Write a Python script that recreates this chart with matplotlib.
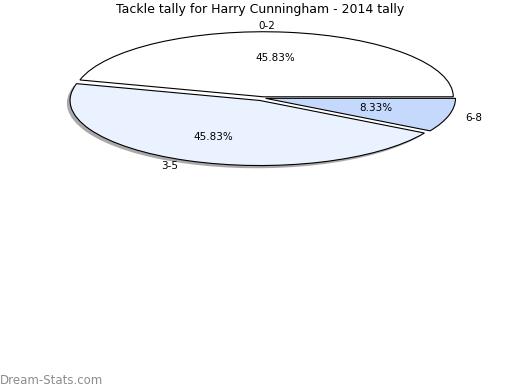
import matplotlib
matplotlib.use('Agg')
import matplotlib.pyplot as plt
from matplotlib.patches import Shadow

# --- datos ---
rangos = ['0-2', '3-5', '6-8']
partidos = [11, 11, 2]
colores = ['#ffffff', '#ebf2ff', '#c5d9fd']
separacion = [0.02, 0.04, 0.015]

fig = plt.figure(figsize=(5.2, 3.9), dpi=100)
# eje aplastado para simular la vista en perspectiva
ax = fig.add_axes([0.049, 0.54, 0.913, 0.417])
wedges, textos, pcts = ax.pie(partidos, labels=rangos, colors=colores, explode=separacion,
                              startangle=0, counterclock=True, autopct='%.2f%%',
                              wedgeprops=dict(edgecolor='black', linewidth=0.8),
                              textprops=dict(fontsize=7.5))
ax.set_aspect('auto')
ax.set_xlim(-1.25, 1.25)
ax.set_ylim(-1.25, 1.25)

# sombra solo en la porción 3-5
sombra = Shadow(wedges[1], -0.012, -0.03, facecolor='#555555', edgecolor='none')
sombra.set_zorder(wedges[1].get_zorder() - 0.5)
ax.add_patch(sombra)

pos_etiquetas = [(0.02, 1.11), (-0.49, -1.05), (1.11, -0.31)]
pos_pct = [(0.063, 0.62), (-0.26, -0.6), (0.595, -0.15)]
for t, p in zip(textos, pos_etiquetas):
    t.set_position(p)
    t.set_ha('center')
    t.set_va('center')
for t, p in zip(pcts, pos_pct):
    t.set_position(p)
    t.set_ha('center')
    t.set_va('center')

fig.text(0.5, 0.975, 'Tackle tally for Harry Cunningham - 2014 tally', ha='center', va='center', fontsize=9)
fig.text(0.0, 0.025, 'Dream-Stats.com', ha='left', va='center', fontsize=8.5, color='#8c8c8c')

fig.savefig('out.png', dpi=100)
